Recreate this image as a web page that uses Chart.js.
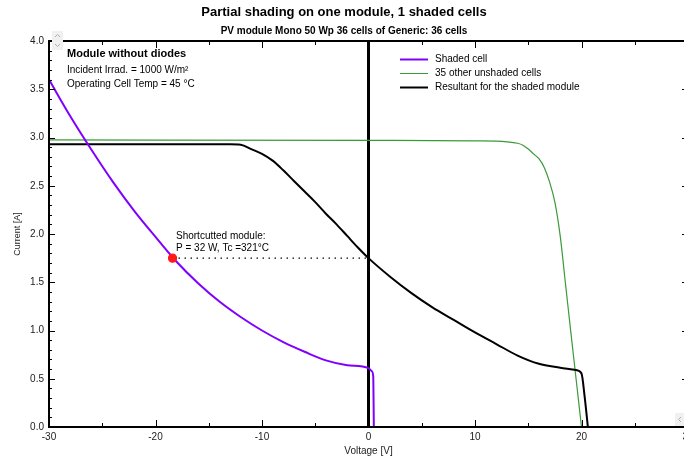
<!DOCTYPE html>
<html>
<head>
<meta charset="utf-8">
<script src="https://cdn.jsdelivr.net/npm/chart.js@4.4.1/dist/chart.umd.min.js"></script>
<style>
  html, body { margin: 0; padding: 0; background: #fff; overflow: hidden; }
  #wrap { width: 706px; height: 457px; }
</style>
</head>
<body>
<div id="wrap"><canvas id="ivChart" width="706" height="457"></canvas></div>
<script>
// I/V curve of the shaded cell (goes into reverse bias)
const shadedVolt = [-30, -28, -26, -24, -22, -20, -18, -16, -14, -12, -10, -8, -6, -4, -2, 0, 0.3, 0.45, 0.5];
const shadedCurr = [3.60, 3.22, 2.87, 2.54, 2.24, 1.97, 1.71, 1.49, 1.30, 1.14, 1.00, 0.88, 0.78, 0.69, 0.64, 0.61, 0.58, 0.52, 0.0];

// the 35 unshaded cells in series
const otherVolt = [-30, 0, 10, 13, 14, 14.5, 15, 15.5, 16, 16.5, 17, 17.5, 18, 18.5, 19, 19.5, 20];
const otherCurr = [2.975, 2.97, 2.965, 2.955, 2.94, 2.92, 2.88, 2.83, 2.78, 2.69, 2.54, 2.33, 1.98, 1.48, 0.98, 0.49, 0];

// resultant for the whole module
const moduleVolt = [-30, -13, -12, -11, -10, -9, -8, -7, -6, -5, -4, -3, -2, -1, 0, 2, 4, 6, 8, 10, 12, 14, 16, 18, 19.5, 20, 20.3, 20.6];
const moduleCurr = [2.93, 2.93, 2.925, 2.88, 2.83, 2.76, 2.66, 2.55, 2.44, 2.33, 2.21, 2.10, 1.98, 1.86, 1.75, 1.56, 1.39, 1.24, 1.11, 0.98, 0.86, 0.74, 0.655, 0.615, 0.59, 0.555, 0.31, 0];

// operating point when the module is short-circuited
const shortVolt = [-18.4, 0];
const shortCurr = [1.75, 1.75];

const xTicks = [-30, -20, -10, 0, 10, 20, 30];
const yTicks = [0, 0.5, 1.0, 1.5, 2.0, 2.5, 3.0, 3.5, 4.0];

const legendLabels = ["Shaded cell", "35 other unshaded cells", "Resultant for the shaded module"];
const infoLines = ["Module without diodes", "Incident Irrad. = 1000 W/m\u00b2", "Operating Cell Temp = 45 \u00b0C"];
const shortLines = ["Shortcutted module:", "P = 32 W, Tc =321\u00b0C"];

const FONT = "'Liberation Sans', Arial, sans-serif";

const toPoints = (xs, ys) => xs.map((v, i) => ({ x: v, y: ys[i] }));

// frame, inner tick marks, legend and text blocks
const decorPlugin = {
    id: "decor",
    afterDatasetsDraw(chart) {
        const { ctx, chartArea: a, scales: { x, y } } = chart;
        ctx.save();
        ctx.strokeStyle = "#000";
        ctx.lineWidth = 2;
        ctx.strokeRect(a.left, a.top, a.right - a.left, a.bottom - a.top);

        ctx.lineWidth = 1;
        ctx.beginPath();
        for (let v = xTicks[0]; v <= xTicks[xTicks.length - 1]; v += 5) {
            const px = Math.round(x.getPixelForValue(v)) + 0.5;
            const len = v % 10 === 0 ? 7 : 4;
            ctx.moveTo(px, a.bottom);
            ctx.lineTo(px, a.bottom - len);
            ctx.moveTo(px, a.top);
            ctx.lineTo(px, a.top + len);
        }
        for (let k = 0; k <= 40; k++) {
            const py = Math.round(y.getPixelForValue(k / 10)) + 0.5;
            const len = k % 5 === 0 ? 6 : 3;
            ctx.moveTo(a.left, py);
            ctx.lineTo(a.left + len, py);
            ctx.moveTo(a.right, py);
            ctx.lineTo(a.right - len, py);
        }
        ctx.stroke();
        ctx.restore();
    },
    afterDraw(chart) {
        const { ctx } = chart;
        ctx.save();
        ctx.textBaseline = "middle";
        ctx.fillStyle = "#000";

        // info block, top left
        ctx.font = "bold 11px " + FONT;
        ctx.fillText(infoLines[0], 67, 54);
        ctx.font = "10px " + FONT;
        ctx.fillText(infoLines[1], 67, 70);
        ctx.fillText(infoLines[2], 67, 84);

        // legend
        const colors = chart.data.datasets.slice(0, 3).map(d => d.borderColor);
        const widths = [2, 1, 2];
        legendLabels.forEach((txt, i) => {
            const yy = 59 + i * 14;
            ctx.strokeStyle = colors[i];
            ctx.lineWidth = widths[i];
            ctx.beginPath();
            ctx.moveTo(400, yy + 0.5);
            ctx.lineTo(428, yy + 0.5);
            ctx.stroke();
            ctx.fillText(txt, 435, yy);
        });

        // short-circuit label
        ctx.fillText(shortLines[0], 176, 236);
        ctx.fillText(shortLines[1], 176, 248);

        // small scroll buttons of the plot window
        ctx.fillStyle = "#f0f0f0";
        ctx.fillRect(52, 31, 11, 19);
        ctx.fillRect(675, 413, 10, 13);
        ctx.strokeStyle = "#b0b0b0";
        ctx.lineWidth = 1;
        ctx.beginPath();
        ctx.moveTo(55, 37); ctx.lineTo(57.5, 34.5); ctx.lineTo(60, 37);
        ctx.moveTo(55, 44); ctx.lineTo(57.5, 46.5); ctx.lineTo(60, 44);
        ctx.moveTo(681, 417); ctx.lineTo(678.5, 419.5); ctx.lineTo(681, 422);
        ctx.stroke();
        ctx.restore();
    }
};

const ctx = document.getElementById("ivChart").getContext("2d");
const ivChart = new Chart(ctx, {
    type: "line",
    data: {
        datasets: [
            {
                label: legendLabels[0],
                data: toPoints(shadedVolt, shadedCurr),
                borderColor: "#8000ff",
                borderWidth: 2,
                pointRadius: 0,
                cubicInterpolationMode: "monotone",
                order: 2,
            },
            {
                label: legendLabels[1],
                data: toPoints(otherVolt, otherCurr),
                borderColor: "#3a9a3a",
                borderWidth: 1.2,
                pointRadius: 0,
                cubicInterpolationMode: "monotone",
                order: 3,
            },
            {
                label: legendLabels[2],
                data: toPoints(moduleVolt, moduleCurr),
                borderColor: "#000",
                borderWidth: 2,
                pointRadius: 0,
                cubicInterpolationMode: "monotone",
                order: 2,
            },
            {
                label: "zero",
                data: [{ x: 0, y: 0 }, { x: 0, y: 4 }],
                borderColor: "#000",
                borderWidth: 3,
                pointRadius: 0,
                order: 4,
            },
            {
                label: "short",
                data: toPoints(shortVolt, shortCurr),
                borderColor: "#000",
                borderWidth: 1.2,
                borderDash: [1.5, 4.5],
                pointRadius: [4, 0],
                pointBackgroundColor: "#ff1a1a",
                pointBorderColor: "#ff1a1a",
                order: 0,
            },
        ],
    },
    options: {
        responsive: false,
        animation: false,
        layout: {
            padding: { left: 0, right: 18, top: 0, bottom: 0 },
        },
        plugins: {
            legend: { display: false },
            tooltip: { enabled: false },
            title: {
                display: true,
                text: "Partial shading on one module, 1 shaded cells",
                color: "#000",
                font: { family: FONT, size: 13, weight: "bold" },
                padding: { top: 5, bottom: 3 },
            },
            subtitle: {
                display: true,
                text: "PV module Mono 50 Wp 36 cells of Generic: 36 cells",
                color: "#000",
                font: { family: FONT, size: 10, weight: "bold" },
                padding: { top: 2, bottom: 3.4 },
            },
        },
        scales: {
            x: {
                type: "linear",
                min: xTicks[0],
                max: xTicks[xTicks.length - 1],
                afterFit: (scale) => { scale.height = 30; },
                afterBuildTicks: (scale) => { scale.ticks = xTicks.map(v => ({ value: v })); },
                grid: { display: false, drawTicks: false },
                border: { display: false },
                ticks: {
                    padding: 4,
                    color: "#222",
                    font: { family: FONT, size: 10 },
                    callback: (v) => String(v),
                },
                title: {
                    display: true,
                    text: "Voltage [V]",
                    color: "#222",
                    font: { family: FONT, size: 10 },
                    padding: { top: 0, bottom: 0 },
                },
            },
            y: {
                type: "linear",
                min: yTicks[0],
                max: yTicks[yTicks.length - 1],
                afterFit: (scale) => { scale.width = 49; },
                afterBuildTicks: (scale) => { scale.ticks = yTicks.map(v => ({ value: v })); },
                grid: { display: false, drawTicks: false },
                border: { display: false },
                ticks: {
                    padding: 5,
                    color: "#222",
                    font: { family: FONT, size: 10 },
                    callback: (v) => Number(v).toFixed(1),
                },
                title: {
                    display: true,
                    text: "Current [A]",
                    color: "#222",
                    font: { family: FONT, size: 9 },
                    padding: { top: 12, bottom: 0 },
                },
            },
        },
    },
    plugins: [decorPlugin],
});
</script>
</body>
</html>
